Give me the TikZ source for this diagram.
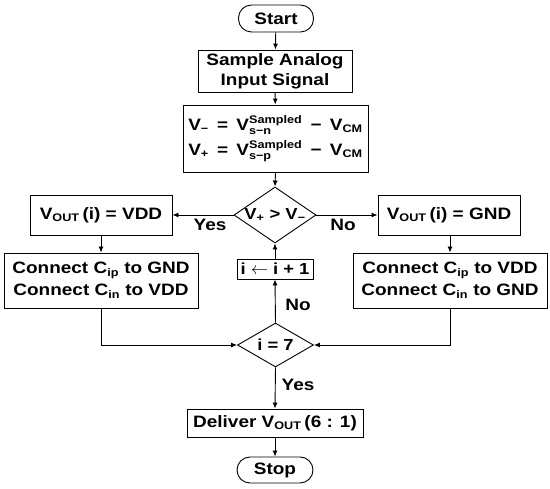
\documentclass[tikz,border=0pt]{standalone}
\usepackage{amsmath}
\usepackage{fontspec}
\setmainfont{Liberation Sans}[FakeStretch=1.15]
\DeclareMathSizes{16}{16}{11}{8}
\DeclareMathSizes{16.5}{16.5}{11}{8}
\usetikzlibrary{shapes.geometric,arrows.meta}
\begin{document}
\begin{tikzpicture}[x=1pt,y=-1pt,
  every node/.style={font=\fontsize{16}{21}\selectfont\bfseries, inner sep=0pt, align=center},
  box/.style={draw, line width=0.9pt, rectangle},
  term/.style={draw, line width=0.9pt, rectangle, rounded corners=13pt},
  dec/.style={draw, line width=0.9pt, diamond, inner sep=0pt},
  lbl/.style={font=\fontsize{16.5}{19}\selectfont\bfseries},
  flow/.style={line width=0.9pt, -{Latex[length=6pt,width=5pt]}}]
\useasboundingbox (0,0) rectangle (550,489);
\node[term, minimum width=75pt, minimum height=27pt, font=\fontsize{16.5}{21}\selectfont\bfseries] (start) at (276,18.5) {Start};
\node[box, minimum width=154pt, minimum height=42pt, font=\fontsize{16.5}{20}\selectfont\bfseries] (sample) at (275,71) {Sample Analog\\Input Signal};
\node[box, minimum width=185pt, minimum height=67pt, font=\fontsize{16.5}{22}\selectfont\bfseries] (eq) at (275.5,138.5)
  {$\text{V}_{\text{−}}\enspace\text{=}\enspace\text{V}^{\text{Sampled}}_{\text{s−n}}\enspace\text{−}\enspace\text{V}_{\text{CM}}$\\[3pt]
   $\text{V}_{\text{+}}\enspace\text{=}\enspace\text{V}^{\text{Sampled}}_{\text{s−p}}\enspace\text{−}\enspace\text{V}_{\text{CM}}$};
\node[dec, minimum width=82pt, minimum height=56pt] (d1) at (275,215) {};
\node (d1t) at (d1.center) {$\text{V}_{\text{+}}\text{ > }\text{V}_{\text{−}}$};
\node[box, minimum width=142pt, minimum height=40pt, font=\fontsize{16.5}{21}\selectfont\bfseries] (vdd) at (101,215) {$\text{V}_{\text{OUT}}\,\text{(i) = VDD}$};
\node[box, minimum width=142pt, minimum height=40pt, font=\fontsize{16.5}{21}\selectfont\bfseries] (gnd) at (449,215) {$\text{V}_{\text{OUT}}\,\text{(i) = GND}$};
\node[box, minimum width=194pt, minimum height=55pt, font=\fontsize{16.5}{22}\selectfont\bfseries] (cl) at (101,280.5)
  {Connect $\text{C}_{\text{ip}}$ to GND\\Connect $\text{C}_{\text{in}}$ to VDD};
\node[box, minimum width=194pt, minimum height=55pt, font=\fontsize{16.5}{22}\selectfont\bfseries] (cr) at (450,280.5)
  {Connect $\text{C}_{\text{ip}}$ to VDD\\Connect $\text{C}_{\text{in}}$ to GND};
\node[box, minimum width=76pt, minimum height=20pt] (inc) at (275,269) {i $\leftarrow$ i + 1};
\node[dec, minimum width=76pt, minimum height=44pt] (d2) at (275.5,345) {};
\node (d2t) at (d2.center) {i = 7};
\node[box, minimum width=176pt, minimum height=28pt, font=\fontsize{16.5}{21}\selectfont\bfseries] (del) at (275,423) {Deliver $\text{V}_{\text{OUT}}\,\text{(6 : 1)}$};
\node[term, minimum width=76pt, minimum height=26pt, font=\fontsize{16.5}{21}\selectfont\bfseries] (stop) at (275,470) {Stop};
\draw[flow] (start) -- (sample);
\draw[flow] (sample) -- (eq);
\draw[flow] (eq.south) -- (d1.north);
\draw[flow] (d1.west) -- (vdd.east);
\draw[flow] (d1.east) -- (gnd.west);
\node[lbl] (yes1) at (210,225) {Yes};
\node[lbl] (no1) at (343,225) {No};
\draw[flow] (vdd) -- (cl);
\draw[flow] (gnd.south -| cr.north) -- (cr.north);
\draw[flow] (cl.south) |- (d2.west);
\draw[flow] (cr.south) |- (d2.east);
\draw[flow] (d2.north) -- (inc.south);
\draw[flow] (inc.north) -- (d1.south);
\node[lbl] (no2) at (298,305) {No};
\draw[flow] (d2.south) -- (del.north);
\node[lbl] (yes2) at (298,385) {Yes};
\draw[flow] (del) -- (stop);
\end{tikzpicture}
\end{document}
